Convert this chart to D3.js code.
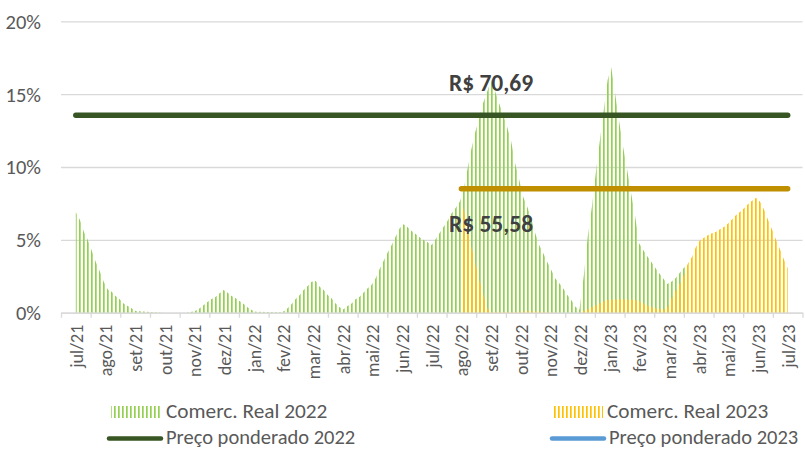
<!DOCTYPE html>
<html>
<head>
<meta charset="utf-8">
<script src="https://cdn.jsdelivr.net/npm/d3@7"></script>
<style>
  body { margin: 0; background: #fff; }
  #wrapper { width: 805px; height: 450px; overflow: hidden; }
</style>
</head>
<body>
<div id="wrapper"></div>
<script>
const GREEN = "#92D050";
const YELLOW = "#FFC000";
const DARK_GREEN = "#375623";
const GOLD = "#BF8F00";
const BLUE = "#5B9BD5";
const GRID_COLOR = "#D9D9D9";
const TEXT_COLOR = "#595959";
const LABEL_COLOR = "#404040";
const FONT = "Carlito, Lato, sans-serif";

// month categories, index 0 = jul/21
const months = [
  "jul/21", "ago/21", "set/21", "out/21", "nov/21", "dez/21",
  "jan/22", "fev/22", "mar/22", "abr/22", "mai/22", "jun/22",
  "jul/22", "ago/22", "set/22", "out/22", "nov/22", "dez/22",
  "jan/23", "fev/23", "mar/23", "abr/23", "mai/23", "jun/23", "jul/23"
];
const yTicks = [0, 5, 10, 15, 20];

// [month index, % share]
const real2022 = [
  [0.00, 6.9], [0.14, 6.36], [0.27, 5.56], [0.40, 5.0], [0.54, 4.23], [0.67, 3.5],
  [0.81, 2.82], [0.94, 2.13], [1.08, 1.6], [1.21, 1.44], [1.34, 1.15], [1.48, 0.92],
  [1.61, 0.64], [1.75, 0.46], [1.88, 0.3], [2.02, 0.12], [2.5, 0.05], [2.74, 0.03],
  [3.0, 0], [3.61, 0], [3.85, 0.03], [4.04, 0.14], [4.18, 0.3], [4.31, 0.53],
  [4.45, 0.76], [4.58, 0.94], [4.72, 1.1], [4.85, 1.33], [4.98, 1.56], [5.12, 1.37],
  [5.25, 1.15], [5.39, 0.99], [5.52, 0.8], [5.66, 0.6], [5.79, 0.37], [5.93, 0.19],
  [6.07, 0.06], [6.48, 0.04], [6.88, 0.03], [7.02, 0.1], [7.14, 0.3], [7.28, 0.6],
  [7.41, 0.94], [7.55, 1.21], [7.68, 1.56], [7.82, 1.83], [7.95, 2.13], [8.09, 2.18],
  [8.22, 1.78], [8.36, 1.56], [8.49, 1.21], [8.62, 0.99], [8.76, 0.64], [8.89, 0.37],
  [9.03, 0.23], [9.16, 0.46], [9.30, 0.64], [9.43, 0.92], [9.57, 1.1], [9.70, 1.37],
  [9.84, 1.67], [9.97, 1.9], [10.11, 2.36], [10.24, 2.98], [10.38, 3.57], [10.51, 4.12],
  [10.65, 4.65], [10.78, 5.22], [10.92, 5.79], [11.05, 6.07], [11.19, 5.86], [11.32, 5.61],
  [11.46, 5.4], [11.59, 5.17], [11.73, 4.99], [11.86, 4.83], [12.0, 4.65], [12.13, 5.04],
  [12.27, 5.49], [12.40, 5.9], [12.53, 6.3], [12.67, 6.82], [12.80, 7.17], [12.94, 7.6],
  [13.06, 8.3], [13.20, 9.79], [13.33, 11.17], [13.47, 12.42], [13.60, 13.34], [13.73, 14.37],
  [13.87, 15.17], [14.0, 16.0], [14.14, 15.17], [14.27, 14.37], [14.41, 13.57], [14.54, 12.77],
  [14.68, 11.74], [14.81, 10.25], [14.95, 9.1], [15.08, 7.96], [15.22, 7.28], [15.35, 6.48],
  [15.49, 5.45], [15.62, 4.65], [15.76, 4.08], [15.89, 3.5], [16.03, 2.93], [16.16, 2.36],
  [16.30, 2.02], [16.43, 1.67], [16.57, 1.21], [16.71, 0.85], [16.84, 0.41], [16.98, 0.2],
  [17.13, 2.59], [17.26, 5.22], [17.40, 7.28], [17.53, 9.57], [17.67, 11.85], [17.80, 13.91],
  [17.93, 15.97], [18.05, 16.84], [18.18, 15.06], [18.32, 13.11], [18.45, 11.39], [18.59, 9.79],
  [18.72, 8.19], [18.86, 6.59], [18.99, 4.76], [19.13, 4.3], [19.26, 3.89], [19.40, 3.5],
  [19.53, 3.11], [19.67, 2.7], [19.80, 2.36], [19.94, 1.97], [20.08, 2.13], [20.22, 2.36],
  [20.35, 2.7], [20.49, 3.05], [20.62, 3.3]
];

const real2023 = [
  [13.05, 7.3], [13.20, 5.9], [13.33, 4.53], [13.47, 3.39], [13.60, 2.24], [13.73, 1.33],
  [13.87, 0.3], [14.0, 0.05], [14.87, 0.05], [15.3, 0.1], [15.8, 0.05], [16.3, 0],
  [16.98, 0], [17.22, 0.2], [17.56, 0.53], [17.89, 0.87], [18.34, 0.92], [18.90, 0.87],
  [19.35, 0.41], [19.80, 0.2], [19.93, 0.3], [20.14, 1.2], [20.37, 2.0], [20.53, 2.7],
  [20.64, 3.39], [20.78, 3.84], [20.91, 4.53], [21.05, 4.99], [21.18, 5.15], [21.32, 5.33],
  [21.45, 5.45], [21.59, 5.56], [21.72, 5.72], [21.86, 5.9], [21.99, 6.13], [22.13, 6.41],
  [22.26, 6.7], [22.40, 6.93], [22.53, 7.17], [22.67, 7.46], [22.80, 7.69], [22.94, 7.89],
  [23.07, 7.62], [23.21, 7.05], [23.34, 6.36], [23.48, 5.68], [23.61, 4.99], [23.75, 4.3],
  [23.88, 3.62], [24.0, 3.05]
];

// weighted price lines (start month, end month) at their level on the % axis
const preco2022 = [[0, 13.55], [24, 13.55]];
const preco2023 = [[13, 8.51], [24, 8.51]];
const priceLabels = ["R$ 70,69", "R$ 55,58"];
const priceLabelMonth = 14;

const legendNames = [
  "Comerc. Real 2022", "Comerc. Real 2023",
  "Preço ponderado 2022", "Preço ponderado 2023"
];

function drawChart() {
  const xAccessor = d => d[0];
  const yAccessor = d => d[1];

  let dimensions = {
    width: 805,
    height: 450,
    margin: {
      top: 21.3,
      right: 2.5,
      bottom: 137.3,
      left: 61,
    }
  };
  dimensions.boundedWidth = dimensions.width
    - dimensions.margin.left
    - dimensions.margin.right;
  dimensions.boundedHeight = dimensions.height
    - dimensions.margin.top
    - dimensions.margin.bottom;

  const wrapper = d3.select("#wrapper")
    .append("svg")
    .attr("width", dimensions.width)
    .attr("height", dimensions.height)
    .style("font-family", FONT);

  const bounds = wrapper.append("g")
    .attr("transform", `translate(${dimensions.margin.left},${dimensions.margin.top})`);

  const xScale = d3.scaleLinear()
    .domain([-0.5, months.length - 0.5])
    .range([0, dimensions.boundedWidth]);

  const yScale = d3.scaleLinear()
    .domain([0, 20])
    .range([dimensions.boundedHeight, 0]);

  // vertical hatch fills, like the excel pattern
  const defs = wrapper.append("defs");
  const hatch = (id, color, x0) => {
    const p = defs.append("pattern")
      .attr("id", id)
      .attr("patternUnits", "userSpaceOnUse")
      .attr("x", x0)
      .attr("width", 4)
      .attr("height", 4);
    p.append("rect")
      .attr("width", 1.7)
      .attr("height", 4)
      .attr("fill", color);
  };
  // snap stripes to whole pixels so they stay crisp
  const stripeStart = Math.round(dimensions.margin.left + xScale(0)) - 1 - dimensions.margin.left;
  hatch("hatch-green", GREEN, stripeStart);
  hatch("hatch-yellow", YELLOW, stripeStart);

  // gridlines + y labels
  const yAxis = bounds.append("g")
    .call(d3.axisLeft(yScale)
      .tickValues(yTicks)
      .tickSize(-dimensions.boundedWidth)
      .tickPadding(20)
      .tickFormat(d => d + "%"));
  yAxis.select(".domain").remove();
  yAxis.selectAll(".tick line")
    .attr("stroke", GRID_COLOR)
    .attr("stroke-width", 1.3);
  yAxis.selectAll(".tick text")
    .attr("fill", TEXT_COLOR)
    .style("font-size", "20.5px")
    .style("font-family", FONT)
    .attr("dy", "0.34em");

  const area = d3.area()
    .x(d => xScale(xAccessor(d)))
    .y0(yScale(0))
    .y1(d => yScale(yAccessor(d)));

  bounds.append("path")
    .datum(real2022)
    .attr("d", area)
    .attr("fill", "url(#hatch-green)");

  bounds.append("path")
    .datum(real2023)
    .attr("d", area)
    .attr("fill", "url(#hatch-yellow)");

  // x axis: ticks between months, labels on month centres
  const xAxis = bounds.append("g")
    .attr("transform", `translate(0,${dimensions.boundedHeight})`)
    .call(d3.axisBottom(xScale)
      .tickValues(d3.range(-0.5, months.length, 1))
      .tickSize(5)
      .tickSizeOuter(0)
      .tickFormat(""));
  xAxis.select(".domain").attr("stroke", GRID_COLOR).attr("stroke-width", 1.3);
  xAxis.selectAll(".tick line").attr("stroke", GRID_COLOR).attr("stroke-width", 1.3);

  const xLabels = bounds.append("g")
    .attr("transform", `translate(0,${dimensions.boundedHeight})`)
    .call(d3.axisBottom(xScale)
      .tickValues(d3.range(0, months.length))
      .tickSize(0)
      .tickFormat(i => months[i]));
  xLabels.select(".domain").remove();
  xLabels.selectAll(".tick text")
    .attr("transform", "rotate(-90)")
    .attr("x", -12)
    .attr("y", 0)
    .attr("dy", "0.36em")
    .style("text-anchor", "end")
    .style("font-size", "18px")
    .style("font-family", FONT)
    .attr("fill", TEXT_COLOR);

  const line = d3.line()
    .x(d => xScale(xAccessor(d)))
    .y(d => yScale(yAccessor(d)));

  bounds.append("path")
    .datum(preco2022)
    .attr("d", line)
    .attr("fill", "none")
    .attr("stroke", DARK_GREEN)
    .attr("stroke-width", 5.5)
    .attr("stroke-linecap", "round");

  bounds.append("path")
    .datum(preco2023)
    .attr("d", line)
    .attr("fill", "none")
    .attr("stroke", GOLD)
    .attr("stroke-width", 5.5)
    .attr("stroke-linecap", "round");

  // price labels
  bounds.append("text")
    .attr("x", xScale(priceLabelMonth))
    .attr("y", yScale(yAccessor(preco2022[0])) - 24)
    .text(priceLabels[0])
    .style("text-anchor", "middle")
    .style("font-weight", "bold")
    .style("font-size", "23.5px")
    .attr("fill", LABEL_COLOR);

  bounds.append("text")
    .attr("x", xScale(priceLabelMonth))
    .attr("y", yScale(yAccessor(preco2023[0])) + 43)
    .text(priceLabels[1])
    .style("text-anchor", "middle")
    .style("font-weight", "bold")
    .style("font-size", "23.5px")
    .attr("fill", LABEL_COLOR);

  // legend
  const legendItems = [
    { name: legendNames[0], kind: "hatch", fill: "url(#hatch-green)", x: 111, y: 406 },
    { name: legendNames[1], kind: "hatch", fill: "url(#hatch-yellow)", x: 552, y: 406 },
    { name: legendNames[2], kind: "line", color: DARK_GREEN, x: 107, y: 438.5 },
    { name: legendNames[3], kind: "line", color: BLUE, x: 550, y: 438.5 },
  ];

  const legend = wrapper.append("g");
  const items = legend.selectAll("g")
    .data(legendItems)
    .enter().append("g");

  items.filter(d => d.kind === "hatch")
    .append("rect")
    .attr("x", d => d.x)
    .attr("y", d => d.y)
    .attr("width", 51)
    .attr("height", 12)
    .attr("fill", d => d.fill);

  items.filter(d => d.kind === "line")
    .append("line")
    .attr("x1", d => d.x + 2)
    .attr("x2", d => d.x + 54)
    .attr("y1", d => d.y)
    .attr("y2", d => d.y)
    .attr("stroke", d => d.color)
    .attr("stroke-width", 4.5)
    .attr("stroke-linecap", "round");

  items.append("text")
    .attr("x", d => d.kind === "hatch" ? d.x + 55 : d.x + 59)
    .attr("y", d => d.kind === "hatch" ? d.y + 11.7 : d.y + 5.5)
    .text(d => d.name)
    .attr("fill", TEXT_COLOR)
    .style("font-size", d => d.kind === "hatch" ? "21.3px" : "20.5px");
}

drawChart();
</script>
</body>
</html>
